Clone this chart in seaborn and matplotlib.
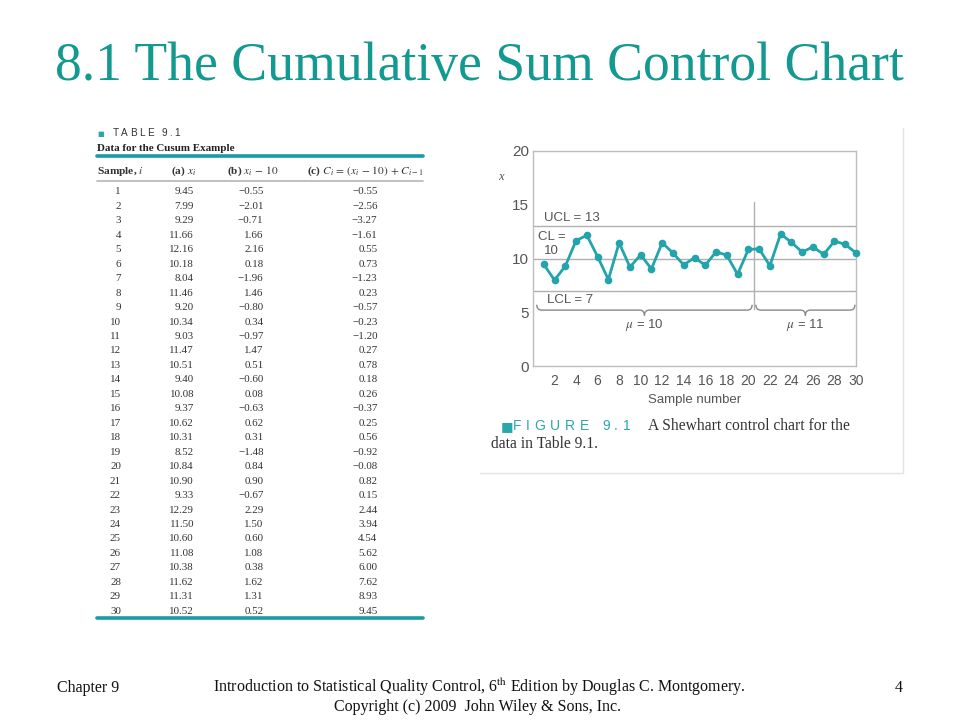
import numpy as np
import pandas as pd
import matplotlib
matplotlib.use("Agg")
import matplotlib.pyplot as plt
import seaborn as sns
from matplotlib.path import Path
from matplotlib.patches import PathPatch
from matplotlib.lines import Line2D

# ---------------- data ----------------
sample = list(range(1, 31))
x_values = [9.45, 7.99, 9.29, 11.66, 12.16, 10.18, 8.04, 11.46, 9.20, 10.34,
            9.03, 11.47, 10.51, 9.40, 10.08, 9.37, 10.62, 10.31, 8.52, 10.84,
            10.90, 9.33, 12.29, 11.50, 10.60, 11.08, 10.38, 11.62, 11.31, 10.52]
dev_values = [-0.55, -2.01, -0.71, 1.66, 2.16, 0.18, -1.96, 1.46, -0.80, 0.34,
              -0.97, 1.47, 0.51, -0.60, 0.08, -0.63, 0.62, 0.31, -1.48, 0.84,
              0.90, -0.67, 2.29, 1.50, 0.60, 1.08, 0.38, 1.62, 1.31, 0.52]
cusum_values = [-0.55, -2.56, -3.27, -1.61, 0.55, 0.73, -1.23, 0.23, -0.57, -0.23,
                -1.20, 0.27, 0.78, 0.18, 0.26, -0.37, 0.25, 0.56, -0.92, -0.08,
                0.82, 0.15, 2.44, 3.94, 4.54, 5.62, 6.00, 7.62, 8.93, 9.45]
UCL, CL, LCL = 13, 10, 7
shift_after = 20
mu_labels = [r"$\mu$ = 10", r"$\mu$ = 11"]
y_ticks = [0, 5, 10, 15, 20]
x_ticks = list(range(2, 31, 2))

TEAL = "#13998f"
LINE_TEAL = "#23a3aa"
GREY = "#555555"

W, H = 960, 720
sns.set_style("white")
plt.rcParams["font.family"] = ["Liberation Serif", "DejaVu Sans"]
plt.rcParams["mathtext.fontset"] = "stix"

fig = plt.figure(figsize=(9.6, 7.2), dpi=100)
renderer = fig.canvas.get_renderer()


def ftext(x, y, s, **kw):
    return fig.text(x / W, 1 - y / H, s, **kw)


def spaced(x, y, s, tracking, **kw):
    for ch in s:
        t = ftext(x, y, ch, **kw)
        w = t.get_window_extent(renderer).width
        if ch == " ":
            w = kw.get("fontsize", 10) * 100 / 72 * 0.3
        x += w + tracking


def fline(x0, y0, x1, y1, **kw):
    fig.add_artist(Line2D([x0 / W, x1 / W], [1 - y0 / H, 1 - y1 / H],
                          transform=fig.transFigure, **kw))


# ---------------- title ----------------
ftext(479.5, 80, "8.1 The Cumulative Sum Control Chart", fontsize=38.6, color=TEAL,
      ha="center", va="baseline", family="Liberation Serif")

# ---------------- table ----------------
ftext(97, 136, "■", fontsize=5, color="#2aa6ad", va="baseline", family="DejaVu Sans")
spaced(113, 136.5, "TABLE 9.1", 2.2, fontsize=7.2, color="#333333",
       va="baseline", family="Liberation Sans")
ftext(97, 151, "Data for the Cusum Example", fontsize=7.9, fontweight="bold",
      color="#222222", va="baseline")
fline(97, 156, 423, 156, color="#1a9aa3", lw=2.6)
hdr_y = 174
hk = dict(fontsize=8.2, fontweight="bold", color="#333333", va="baseline")
ftext(97, hdr_y, r"Sample, $i$", **hk)
ftext(171, hdr_y, r"(a) $x_i$", **hk)
ftext(227, hdr_y, r"(b) $x_i\,-\,10$", **hk)
ftext(307, hdr_y, r"(c) $C_i\,=\,(x_i\,-\,10)\,+\,C_{i-1}$", **hk)
fline(97, 180.7, 423, 180.7, color="#b5b5b5", lw=1.2)


def fmt(v):
    return f"{v:.2f}".replace("-", "\u2212")


for k, (s, a, b, c) in enumerate(zip(sample, x_values, dev_values, cusum_values)):
    yb = 190.7 + 14.46 * k + 3.7
    kw = dict(fontsize=7.9, color="#333333", va="baseline", ha="right")
    ftext(121, yb, str(s), **kw)
    ftext(194, yb, f"{a:.2f}", **kw)
    ftext(263.5, yb, fmt(b), **kw)
    ftext(377.5, yb, fmt(c), **kw)
fline(97, 618, 423, 618, color="#1a9aa3", lw=2.6)

# ---------------- chart ----------------
ax = fig.add_axes([533 / W, 1 - 366 / H, 323 / W, 215 / H])
df = pd.DataFrame({"Sample": sample, "x": x_values})

for yv in (UCL, CL, LCL):
    ax.axhline(yv, color="#b0b0b0", lw=1.0, zorder=1)
ax.plot([shift_after + 0.5, shift_after + 0.5], [5.3, 15.3], color="#b0b0b0", lw=1.0, zorder=1)

sns.lineplot(data=df, x="Sample", y="x", ax=ax, color=LINE_TEAL, lw=2.0,
             marker="o", markersize=5.5, markeredgewidth=0, zorder=3, clip_on=False)

ax.set_xlim(0, 30)
ax.set_ylim(0, 20)
ax.set_yticks(y_ticks)
ax.set_xticks(x_ticks)
ax.set_xticks(sample, minor=True)
ax.tick_params(axis="both", which="both", direction="in", color="#aaaaaa",
               labelcolor=GREY, width=1.0)
ax.tick_params(axis="x", which="major", length=6, pad=6, labelsize=10)
ax.tick_params(axis="x", which="minor", length=6)
ax.tick_params(axis="y", which="major", length=6, pad=3, labelsize=11)
for lab in ax.get_xticklabels() + ax.get_yticklabels():
    lab.set_family("Liberation Sans")
for sp in ax.spines.values():
    sp.set_color("#bdbdbd")
    sp.set_linewidth(1.0)
ax.set_xlabel("Sample number", fontsize=9.5, color=GREY, family="Liberation Sans", labelpad=4)
ax.set_ylabel("")
ax.text(-3.0, 17.6, "x", fontsize=9, style="italic", color=GREY, ha="center", va="center",
        family="Liberation Serif")

lbl = dict(fontsize=9.5, color=GREY, family="Liberation Sans", va="center")
ax.text(1.0, 13.75, "UCL = 13", **lbl)
ax.text(0.5, 12.0, "CL =", **lbl)
ax.text(1.0, 10.7, "10", **lbl)
ax.text(1.3, 6.15, "LCL = 7", **lbl)


def brace(x0, x1, y, h, dx):
    xm = (x0 + x1) / 2
    verts = [(x0, y + h), (x0, y), (x0 + dx, y), (xm - dx, y), (xm, y), (xm, y - h),
             (xm, y - h), (xm, y), (xm + dx, y), (x1 - dx, y), (x1, y), (x1, y + h)]
    codes = [Path.MOVETO, Path.CURVE3, Path.CURVE3, Path.LINETO, Path.CURVE3, Path.CURVE3,
             Path.MOVETO, Path.CURVE3, Path.CURVE3, Path.LINETO, Path.CURVE3, Path.CURVE3]
    ax.add_patch(PathPatch(Path(verts, codes), fill=False, edgecolor="#888888", lw=1.0))
    return xm


m1 = brace(0.35, shift_after + 0.35, 5.2, 0.5, 0.45)
m2 = brace(shift_after + 0.7, 29.9, 5.2, 0.5, 0.45)
ax.text(m1, 3.85, mu_labels[0], fontsize=9.5, color=GREY, ha="center", va="center",
        family="Liberation Sans")
ax.text(m2, 3.85, mu_labels[1], fontsize=9.5, color=GREY, ha="center", va="center",
        family="Liberation Sans")

# figure frame lines
fline(903, 128, 903, 473, color="#e2e2e2", lw=1.0)
fline(480, 473, 903, 473, color="#e2e2e2", lw=1.0)

# caption
ftext(500.5, 430.5, "■", fontsize=9.5, color="#2aa6ad", va="baseline", family="DejaVu Sans")
spaced(513, 430.5, "FIGURE 9.1", 4.6, fontsize=10, color="#2aa6ad",
       va="baseline", family="Liberation Sans")
ftext(648, 430.5, "A Shewhart control chart for the", fontsize=11.2, color="#333333",
      va="baseline")
ftext(491, 447.5, "data in Table 9.1.", fontsize=11.2, color="#333333", va="baseline")

# footer
foot = dict(fontsize=11.5, color="#111111", va="baseline")
ftext(57, 692, "Chapter 9", **foot)
ftext(479, 692, r"Introduction to Statistical Quality Control, 6$^{\mathrm{th}}$ Edition by Douglas C. Montgomery.",
      ha="center", **foot)
ftext(478, 711, "Copyright (c) 2009  John Wiley & Sons, Inc.", ha="center", **foot)
ftext(903, 692, "4", ha="right", **foot)

fig.savefig("out.png", dpi=100)
